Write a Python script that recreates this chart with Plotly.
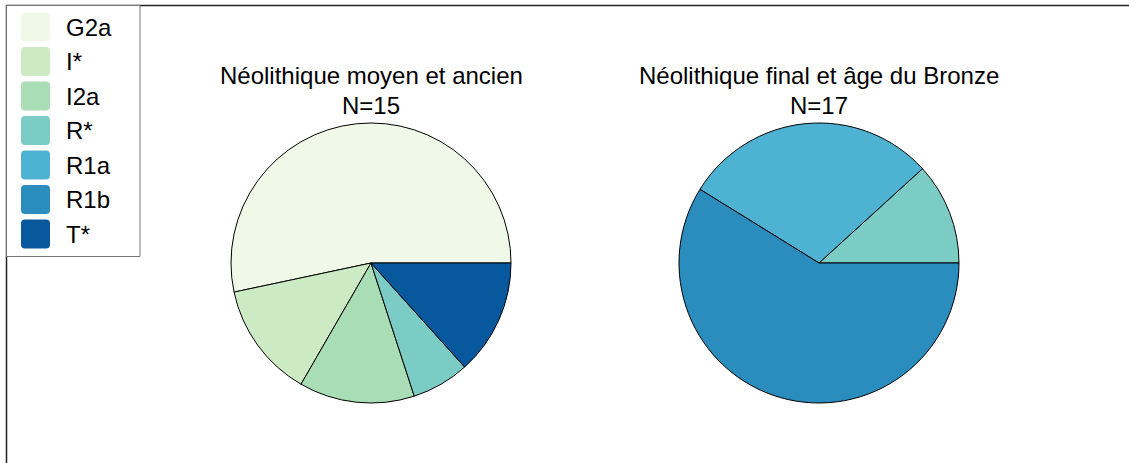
import plotly.graph_objects as go

# ---- data ----
categories = ["G2a", "I*", "I2a", "R*", "R1a", "R1b", "T*"]
left_counts = [8, 2, 2, 1, 0, 0, 2]
right_counts = [0, 0, 0, 2, 5, 10, 0]
left_title = "Néolithique moyen et ancien"
right_title = "Néolithique final et âge du Bronze"

palette = ["#f0f9e8", "#ccebc5", "#a8ddb5", "#7bccc4", "#4eb3d3", "#2b8cbe", "#08589e"]
color_of = dict(zip(categories, palette))

W, H = 1129, 463
FONT = "Liberation Sans, Arial, sans-serif"
FS = 24


def px(x):
    return x / W


def py(y):
    return 1 - y / H


def pie(counts, cx):
    labs = [c for c, v in zip(categories, counts) if v > 0]
    vals = [v for v in counts if v > 0]
    r = 140
    # plotly's counterclockwise mode places the first slice clockwise of `rotation`;
    # shift so the first slice starts at 3 o'clock and runs counterclockwise
    rot = 90 - 360.0 * vals[0] / sum(vals)
    return go.Pie(
        labels=labs, values=vals, sort=False, direction="counterclockwise",
        rotation=rot, textinfo="none", hoverinfo="label+value+percent",
        marker=dict(colors=[color_of[l] for l in labs], line=dict(color="black", width=1)),
        domain=dict(x=[px(cx - r), px(cx + r)], y=[py(263 + r), py(263 - r)]),
        showlegend=False,
    )


fig = go.Figure([pie(left_counts, 371), pie(right_counts, 819)])

shapes = []
annotations = []

# outer frame (extends beyond visible window)
shapes.append(dict(type="rect", xref="paper", yref="paper", x0=px(6.5), x1=1.2, y0=-0.2, y1=py(5.5),
                   line=dict(color="#222", width=1.5), layer="below"))
# legend box
shapes.append(dict(type="rect", xref="paper", yref="paper", x0=px(6.5), x1=px(140), y0=py(256.5), y1=py(5.5),
                   line=dict(color="#777", width=1), fillcolor="white"))

row0, step, sw = 27, 34.5, 29
for i, cat in enumerate(categories):
    cy = row0 + i * step
    x0, x1, y0, y1 = 21, 21 + sw, cy - sw / 2, cy + sw / 2
    rr = 4
    pts = [("M", x0 + rr, y0), ("L", x1 - rr, y0), ("Q", x1, y0, x1, y0 + rr), ("L", x1, y1 - rr),
           ("Q", x1, y1, x1 - rr, y1), ("L", x0 + rr, y1), ("Q", x0, y1, x0, y1 - rr), ("L", x0, y0 + rr),
           ("Q", x0, y0, x0 + rr, y0)]
    parts = []
    for p in pts:
        cmd, coords = p[0], p[1:]
        cs = []
        for j in range(0, len(coords), 2):
            cs.append(f"{px(coords[j]):.6f},{py(coords[j+1]):.6f}")
        parts.append(cmd + " " + " ".join(cs))
    path = " ".join(parts) + " Z"
    shapes.append(dict(type="path", xref="paper", yref="paper", path=path, line=dict(width=0),
                       fillcolor=color_of[cat]))
    annotations.append(dict(text=cat, x=px(64), y=py(cy), xref="paper", yref="paper", xanchor="left",
                            yanchor="middle", showarrow=False, font=dict(size=FS, color="black", family=FONT)))

for cx, title, n in [(371, left_title, sum(left_counts)), (819, right_title, sum(right_counts))]:
    annotations.append(dict(text=title, x=px(cx), y=py(75.5), xref="paper", yref="paper", xanchor="center",
                            yanchor="middle", showarrow=False, font=dict(size=FS, color="black", family=FONT)))
    annotations.append(dict(text=f"N={n}", x=px(cx), y=py(105), xref="paper", yref="paper", xanchor="center",
                            yanchor="middle", showarrow=False, font=dict(size=FS, color="black", family=FONT)))

fig.update_layout(
    width=W, height=H, margin=dict(l=0, r=0, t=0, b=0),
    paper_bgcolor="white", plot_bgcolor="rgba(0,0,0,0)",
    shapes=shapes, annotations=annotations, showlegend=False,
    font=dict(family=FONT),
)

fig.write_html("out.html", config={"displayModeBar": False},
               post_script="document.body.style.margin='0';document.body.style.overflow='hidden';")
